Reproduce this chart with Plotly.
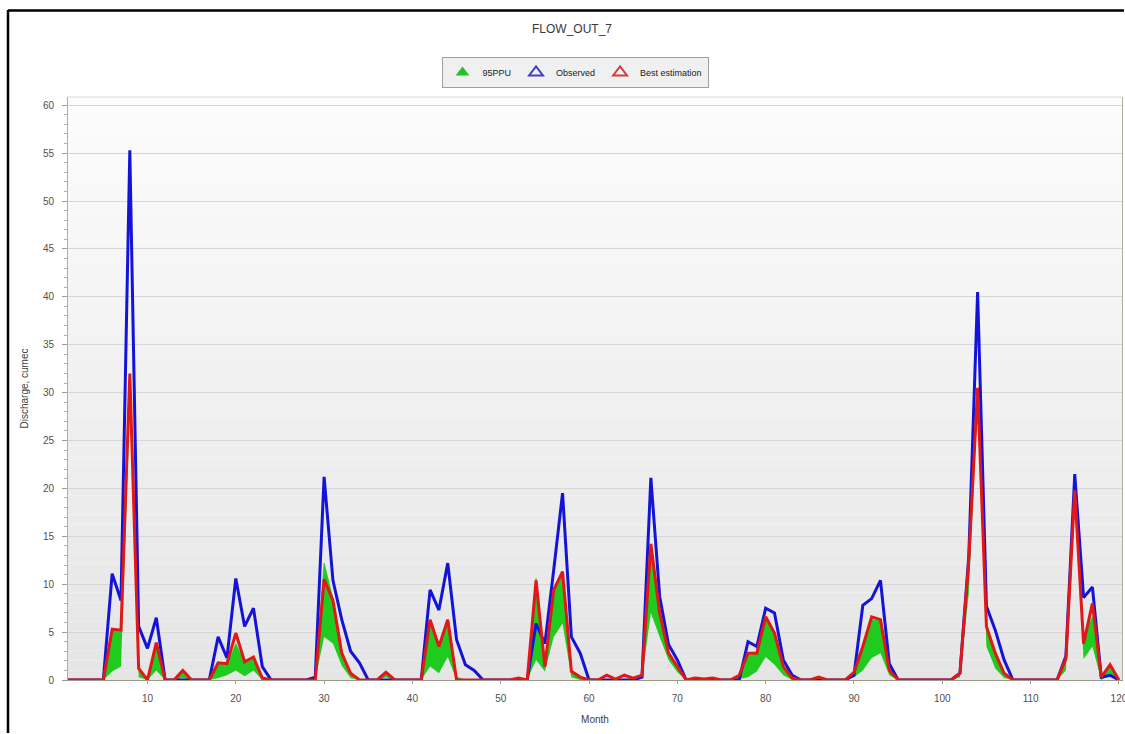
import plotly.graph_objects as go

months = list(range(1, 121))

observed = [
    0, 0, 0, 0, 0, 11.1, 8.3, 55.3, 5.6, 3.3,
    6.5, 0, 0, 0, 0, 0, 0, 4.5, 2.3, 10.6,
    5.6, 7.5, 1.4, 0, 0, 0, 0, 0, 0.3, 21.2,
    10.4, 6.3, 3.0, 1.8, 0, 0, 0, 0, 0, 0,
    0, 9.4, 7.3, 12.2, 4.2, 1.6, 1.0, 0, 0, 0,
    0, 0, 0, 5.9, 3.8, 11.5, 19.5, 4.5, 2.8, 0,
    0, 0, 0, 0, 0, 0.3, 21.1, 8.7, 3.7, 2.1,
    0, 0, 0, 0, 0, 0, 0, 4.0, 3.5, 7.5,
    7.0, 2.1, 0.5, 0, 0, 0, 0, 0, 0, 0.5,
    7.8, 8.5, 10.4, 1.7, 0, 0, 0, 0, 0, 0,
    0, 0.7, 12.9, 40.5, 7.7, 5.2, 2.1, 0, 0, 0,
    0, 0, 0, 2.5, 21.5, 8.6, 9.7, 0.3, 0.5, 0,
]

best_estimation = [
    0, 0, 0, 0, 0, 5.3, 5.2, 32.0, 1.2, 0,
    3.9, 0, 0, 1.0, 0, 0, 0, 1.8, 1.7, 4.9,
    1.9, 2.4, 0.2, 0, 0, 0, 0, 0, 0, 10.5,
    8.3, 2.8, 0.7, 0, 0, 0, 0.8, 0, 0, 0,
    0, 6.3, 3.5, 6.3, 0, 0, 0, 0, 0, 0,
    0, 0.2, 0, 10.4, 1.4, 9.4, 11.3, 0.9, 0.3, 0,
    0, 0.5, 0.1, 0.5, 0.2, 0.5, 14.2, 7.0, 2.8, 1.4,
    0, 0.2, 0.1, 0.2, 0, 0, 0.5, 2.8, 2.8, 6.6,
    4.9, 1.4, 0.2, 0, 0, 0.3, 0, 0, 0, 0.8,
    3.5, 6.6, 6.3, 1.0, 0, 0, 0, 0, 0, 0,
    0, 0.7, 12.5, 30.5, 5.6, 2.8, 0.7, 0, 0, 0,
    0, 0, 0, 2.2, 19.8, 3.8, 8.0, 0.3, 1.6, 0,
]

ppu_lower = [
    0, 0, 0, 0, 0, 0.9, 1.4, 28.0, 0.3, 0,
    1.0, 0, 0, 0.2, 0, 0, 0, 0.2, 0.5, 1.0,
    0.4, 1.0, 0, 0, 0, 0, 0, 0, 0, 4.5,
    3.8, 1.5, 0.2, 0, 0, 0, 0.3, 0, 0, 0,
    0, 1.4, 0.7, 2.4, 0, 0, 0, 0, 0, 0,
    0, 0, 0, 2.1, 0.9, 4.5, 5.9, 0.3, 0, 0,
    0, 0, 0, 0, 0, 0.2, 7.0, 4.5, 2.1, 0.8,
    0, 0, 0, 0, 0, 0, 0.1, 0.3, 0.9, 2.4,
    1.6, 0.5, 0, 0, 0, 0, 0, 0, 0, 0.3,
    1.0, 2.3, 2.8, 0.5, 0, 0, 0, 0, 0, 0,
    0, 0.3, 9.0, 29.0, 3.5, 1.2, 0.2, 0, 0, 0,
    0, 0, 0, 1.0, 19.0, 2.2, 3.5, 0, 0.5, 0,
]

ppu_upper = [
    0, 0, 0, 0, 0, 5.2, 5.0, 31.5, 1.0, 0.2,
    3.6, 0, 0, 0.9, 0, 0, 0, 1.8, 1.5, 3.8,
    1.8, 2.2, 0.3, 0, 0, 0, 0, 0, 0, 12.2,
    8.5, 3.0, 0.7, 0, 0, 0, 0.8, 0, 0, 0,
    0, 6.0, 3.5, 6.0, 0.3, 0, 0, 0, 0, 0,
    0, 0, 0, 10.6, 1.8, 9.1, 11.0, 1.0, 0.3, 0,
    0, 0, 0, 0, 0, 0.5, 13.5, 7.0, 2.8, 1.4,
    0.2, 0, 0, 0, 0, 0, 0.5, 2.6, 2.7, 6.3,
    4.8, 1.3, 0.2, 0, 0, 0, 0, 0, 0, 0.8,
    3.2, 6.3, 6.2, 1.0, 0, 0, 0, 0, 0, 0,
    0, 0.7, 12.3, 30.3, 5.5, 2.8, 0.7, 0, 0, 0,
    0, 0, 0, 2.2, 19.8, 4.5, 6.6, 0.3, 1.5, 0,
]

y_ticks = list(range(0, 61, 5))
x_ticks = list(range(10, 121, 10))

GREEN = "#1ecb1e"
BLUE = "#1414d8"
RED = "#e01818"

fig = go.Figure()

fig.add_trace(go.Scatter(x=months, y=ppu_lower, mode="lines",
                         line=dict(width=0, color=GREEN), showlegend=False,
                         hoverinfo="skip"))
fig.add_trace(go.Scatter(x=months, y=ppu_upper, mode="lines", fill="tonexty",
                         fillcolor=GREEN, line=dict(width=0.8, color=GREEN),
                         showlegend=False, name="95PPU"))
fig.add_trace(go.Scatter(x=months, y=observed, mode="lines",
                         line=dict(width=3, color=BLUE), showlegend=False,
                         name="Observed"))
fig.add_trace(go.Scatter(x=months, y=best_estimation, mode="lines",
                         line=dict(width=3, color=RED), showlegend=False,
                         name="Best estimation"))

# legend entries (triangle icons)
fig.add_trace(go.Scatter(x=[None], y=[None], mode="markers", name="95PPU",
                         marker=dict(symbol="triangle-up", size=16, color="#22c422")))
fig.add_trace(go.Scatter(x=[None], y=[None], mode="markers", name="Observed",
                         marker=dict(symbol="triangle-up-open", size=16, color="#4040c0",
                                     line=dict(width=1))))
fig.add_trace(go.Scatter(x=[None], y=[None], mode="markers", name="Best estimation",
                         marker=dict(symbol="triangle-up-open", size=16, color="#d04040",
                                     line=dict(width=1))))

shapes = []
N = 60
top = (252, 252, 252)
bot = (229, 229, 229)
for i in range(N):
    t = i / (N - 1)
    c = tuple(int(round(bot[k] + (top[k] - bot[k]) * t)) for k in range(3))
    shapes.append(dict(type="rect", xref="paper", yref="paper",
                       x0=0, x1=1, y0=i / N, y1=(i + 1) / N,
                       fillcolor="rgb(%d,%d,%d)" % c, line=dict(width=0),
                       layer="below"))

# outer black frame (top and left)
L, R, T, B = 68, 3, 97, 54
W, H = 1125, 734
pw, ph = W - L - R, H - T - B
def px(xp):
    return (xp - L) / pw
def py(yp):
    return (H - B - yp) / ph
shapes.append(dict(type="line", xref="paper", yref="paper",
                   x0=px(8), x1=px(8), y0=py(733), y1=py(10),
                   line=dict(color="black", width=2.5)))
shapes.append(dict(type="line", xref="paper", yref="paper",
                   x0=px(8), x1=px(1124), y0=py(10.5), y1=py(10.5),
                   line=dict(color="black", width=2.5)))
# plot area top border
shapes.append(dict(type="line", xref="paper", yref="paper",
                   x0=0, x1=1, y0=1, y1=1,
                   line=dict(color="#dcdccc", width=1)))

tickfont = dict(family="Liberation Sans, Arial, sans-serif", size=10, color="#505050")

fig.update_layout(
    width=W, height=H,
    margin=dict(l=L, r=R, t=T, b=B, autoexpand=False),
    paper_bgcolor="white",
    plot_bgcolor="rgba(0,0,0,0)",
    shapes=shapes,
    title=dict(text="FLOW_OUT_7", x=(572 - L) / pw, xref="paper", xanchor="center",
               y=1 - 29 / H, yref="container", yanchor="middle",
               font=dict(family="Liberation Sans, Arial, sans-serif", size=12, color="#383838")),
    legend=dict(orientation="h", x=(575 - L) / pw, xanchor="center",
                y=py(57), yanchor="top", traceorder="normal",
                bgcolor="#f0f0f0", bordercolor="#a0a0a0", borderwidth=1,
                font=dict(family="Liberation Sans, Arial, sans-serif", size=9, color="#202020"),
                itemsizing="constant", tracegroupgap=0, itemwidth=30),
    showlegend=True,
    xaxis=dict(range=[1, 120.35], tickmode="array", tickvals=x_ticks,
               ticks="outside", ticklen=3, tickcolor="#a0a0a0", automargin=False,
               showgrid=False, zeroline=False, showline=True,
               linecolor="#9a9a88", linewidth=1,
               tickfont=tickfont, ticklabelstandoff=6, ticklabeloverflow="allow",
               title=dict(text="Month", standoff=12,
                          font=dict(family="Liberation Sans, Arial, sans-serif", size=10, color="#404040"))),
    yaxis=dict(range=[0, 60.86], tickmode="array", tickvals=y_ticks,
               ticks="outside", ticklen=5, tickcolor="#a0a090", automargin=False,
               minor=dict(dtick=1, ticks="outside", ticklen=3, tickcolor="#b0b0a0", showgrid=False),
               showgrid=True, gridcolor="#d6d6d6", gridwidth=1,
               zeroline=False, showline=True, linecolor="#b0b0a0", linewidth=1,
               mirror=True,
               tickfont=tickfont, ticklabelstandoff=6,
               title=dict(text="Discharge, cumec", standoff=12,
                          font=dict(family="Liberation Sans, Arial, sans-serif", size=10, color="#404040"))),
)

fig.write_html("out.html")
